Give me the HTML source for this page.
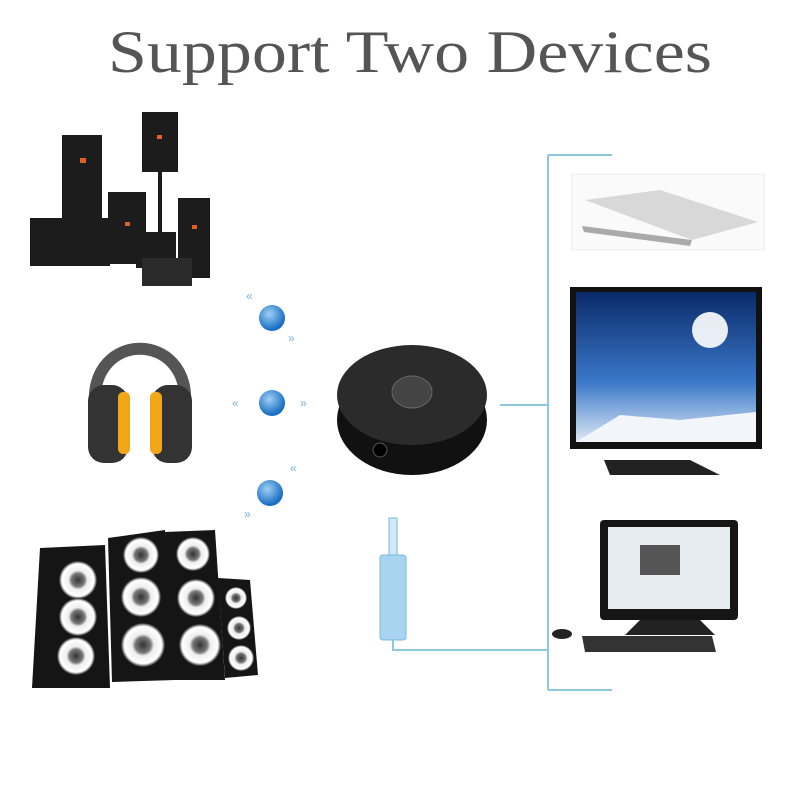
<!DOCTYPE html>
<html><head><meta charset="utf-8"><style>
html,body{margin:0;padding:0;background:#fff;width:800px;height:800px;overflow:hidden}
</style></head><body>
<svg width="800" height="800" viewBox="0 0 800 800" xmlns="http://www.w3.org/2000/svg">
<defs>
<radialGradient id="ball" cx="40%" cy="35%" r="60%"><stop offset="0" stop-color="#9fd0f5"/><stop offset="1" stop-color="#1a6fc4"/></radialGradient>
<linearGradient id="sky" x1="0" y1="0" x2="0" y2="1"><stop offset="0" stop-color="#0a2a6a"/><stop offset="0.6" stop-color="#3a78c8"/><stop offset="1" stop-color="#dce8f5"/></linearGradient>
<radialGradient id="spk" cx="50%" cy="50%" r="50%"><stop offset="0" stop-color="#333"/><stop offset="0.35" stop-color="#777"/><stop offset="0.5" stop-color="#eee"/><stop offset="0.85" stop-color="#fff"/><stop offset="1" stop-color="#222"/></radialGradient>
</defs>
<text x="108" y="72" textLength="604" lengthAdjust="spacingAndGlyphs" font-family="Liberation Serif, serif" font-size="60" fill="#555">Support Two Devices</text>

<g stroke="#8cc8e0" stroke-width="2" fill="none">
<line x1="548" y1="155" x2="548" y2="690"/>
<line x1="548" y1="155" x2="612" y2="155"/>
<line x1="500" y1="405" x2="548" y2="405"/>
<polyline points="393,640 393,650 548,650"/>
<line x1="548" y1="690" x2="612" y2="690"/>
</g>

<g fill="#1c1c1c">
<rect x="62" y="135" width="40" height="85"/>
<rect x="142" y="112" width="36" height="60"/>
<rect x="158" y="172" width="4" height="60"/>
<rect x="108" y="192" width="38" height="72"/>
<rect x="178" y="198" width="32" height="80"/>
<rect x="30" y="218" width="80" height="48"/>
<rect x="136" y="232" width="40" height="36"/>
<rect x="142" y="258" width="50" height="28" fill="#2a2a2a"/>
</g>
<g fill="#e06020"><rect x="80" y="158" width="6" height="5"/><rect x="157" y="135" width="5" height="4"/><rect x="125" y="222" width="5" height="4"/><rect x="192" y="225" width="5" height="4"/></g>

<path d="M95,405 C90,330 190,330 185,405" stroke="#555" stroke-width="12" fill="none"/>
<rect x="88" y="385" width="40" height="78" rx="16" fill="#333"/>
<rect x="152" y="385" width="40" height="78" rx="16" fill="#333"/>
<rect x="118" y="392" width="12" height="62" rx="5" fill="#f0a818"/>
<rect x="150" y="392" width="12" height="62" rx="5" fill="#f0a818"/>

<circle cx="272" cy="318" r="13" fill="url(#ball)"/>
<circle cx="272" cy="403" r="13" fill="url(#ball)"/>
<circle cx="270" cy="493" r="13" fill="url(#ball)"/>
<g font-family="Liberation Sans, sans-serif" font-size="12" fill="#7ab0d8">
<text x="246" y="300">«</text><text x="288" y="342">»</text>
<text x="232" y="407">«</text><text x="300" y="407">»</text>
<text x="290" y="472">«</text><text x="244" y="518">»</text>
</g>

<ellipse cx="412" cy="420" rx="75" ry="55" fill="#111"/>
<ellipse cx="412" cy="395" rx="75" ry="50" fill="#2b2b2b"/>
<ellipse cx="412" cy="392" rx="20" ry="16" fill="#444" stroke="#666"/>
<circle cx="380" cy="450" r="7" fill="#000" stroke="#555"/>

<rect x="572" y="174" width="192" height="76" fill="#fafafa" stroke="#eee"/>
<polygon points="585,200 660,190 758,222 692,240" fill="#d8d8d8"/>
<polygon points="582,226 692,240 690,246 584,232" fill="#aaa"/>

<rect x="570" y="287" width="192" height="162" fill="#111"/>
<rect x="576" y="292" width="180" height="150" fill="url(#sky)"/>
<circle cx="710" cy="330" r="18" fill="#fff" opacity="0.9"/>
<polygon points="576,442 620,415 680,420 756,412 756,442" fill="#f2f6fa"/>
<polygon points="604,460 690,460 720,475 610,475" fill="#222"/>

<rect x="600" y="520" width="138" height="100" rx="4" fill="#151515"/>
<rect x="608" y="527" width="122" height="82" fill="#e6ecf0"/>
<rect x="640" y="545" width="40" height="30" fill="#555"/>
<path d="M640,620 L700,620 L715,635 L625,635 Z" fill="#222"/>
<polygon points="582,636 712,636 716,652 585,652" fill="#333"/>
<ellipse cx="562" cy="634" rx="10" ry="5" fill="#222"/>

<rect x="380" y="555" width="26" height="85" rx="3" fill="#a8d4f0" stroke="#7ab8e0"/>
<rect x="389" y="518" width="8" height="37" fill="#d0e8f8" stroke="#7ab8e0"/>

<g fill="#151515">
<polygon points="40,548 105,545 110,688 32,688"/>
<polygon points="108,538 165,530 175,680 112,682"/>
<polygon points="165,532 215,530 225,680 172,680"/>
<polygon points="218,578 250,580 258,675 225,678"/>
</g>
<g fill="url(#spk)">
<circle cx="78" cy="580" r="19"/><circle cx="78" cy="617" r="19"/><circle cx="76" cy="656" r="19"/>
<circle cx="141" cy="555" r="18"/><circle cx="141" cy="597" r="20"/><circle cx="143" cy="645" r="22"/>
<circle cx="193" cy="554" r="17"/><circle cx="196" cy="598" r="19"/><circle cx="200" cy="645" r="21"/>
<circle cx="236" cy="598" r="11"/><circle cx="239" cy="628" r="12"/><circle cx="241" cy="658" r="13"/>
</g>
</svg>
</body></html>
